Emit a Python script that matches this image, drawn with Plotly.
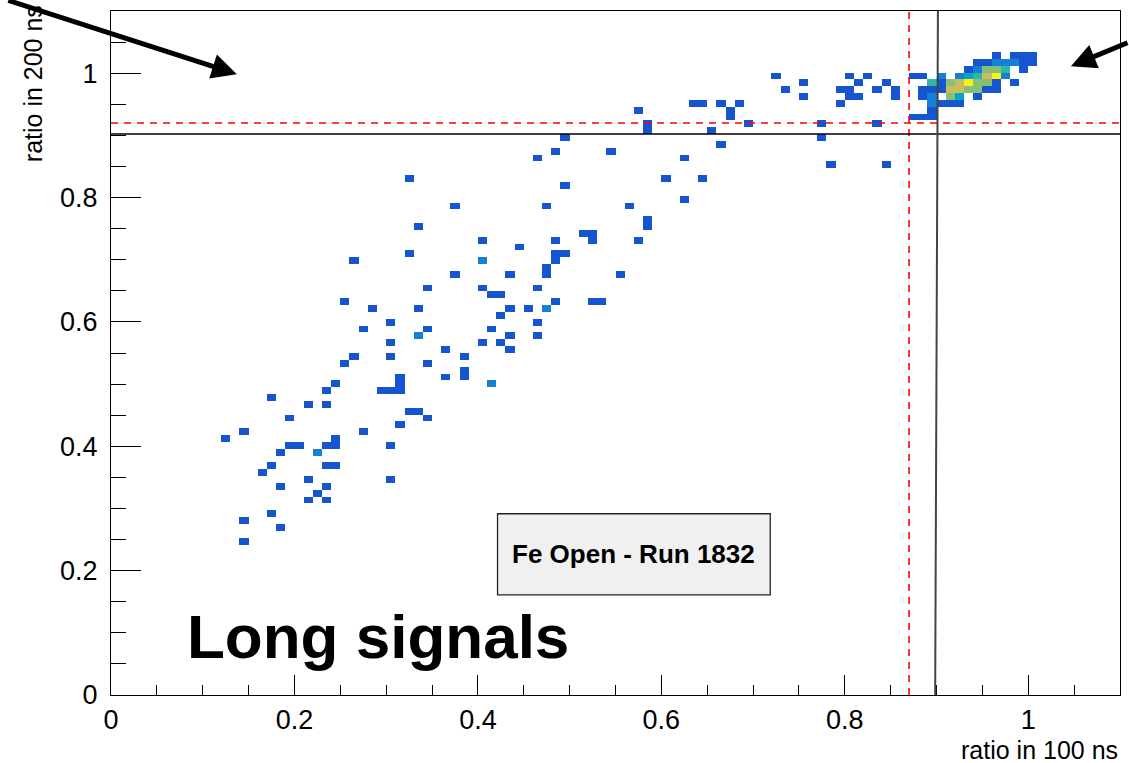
import plotly.graph_objects as go

# ---- data: 2D histogram bins (bin centres) ----
ratio_100ns = [
    0.145,
    0.185,
    0.145,
    0.175,
    0.215, 0.235,
    0.225,
    0.185, 0.235,
    0.215, 0.305,
    0.165,
    0.175, 0.235, 0.245,
    0.185, 0.225,
    0.195, 0.205, 0.235, 0.245, 0.305,
    0.125, 0.245,
    0.145, 0.275,
    0.315,
    0.195, 0.345,
    0.325, 0.335,
    0.215, 0.235,
    0.175,
    0.235, 0.295, 0.305, 0.315,
    0.245, 0.315, 0.415,
    0.315, 0.365, 0.385,
    0.385,
    0.255, 0.345,
    0.265, 0.305, 0.385,
    0.365, 0.435,
    0.305, 0.405, 0.425,
    0.335, 0.435, 0.465,
    0.275, 0.345, 0.415,
    0.305, 0.465,
    0.425,
    0.285, 0.335, 0.435, 0.455, 0.475,
    0.255, 0.485, 0.525, 0.535,
    0.415, 0.425,
    0.345, 0.405, 0.465,
    0.375, 0.435, 0.475, 0.555,
    0.475,
    0.265, 0.405, 0.485,
    0.325, 0.485, 0.495,
    0.445,
    0.405, 0.485, 0.525, 0.575,
    0.515, 0.525,
    0.335, 0.585,
    0.585,
    0.375, 0.475, 0.565,
    0.625,
    0.495,
    0.325, 0.605, 0.645,
    0.785, 0.845,
    0.465, 0.625,
    0.485, 0.545,
    0.665,
    0.495, 0.775,
    0.585, 0.655,
    0.585, 0.695, 0.775, 0.835,
    0.675, 0.875, 0.885, 0.895,
    0.575, 0.675, 0.895,
    0.635, 0.645, 0.665, 0.685, 0.795, 0.895, 0.905, 0.915, 0.925,
    0.755, 0.805, 0.815, 0.855, 0.885, 0.895, 0.915, 0.925, 0.945,
    0.735, 0.795, 0.805, 0.835, 0.855, 0.885, 0.895, 0.905, 0.915, 0.925, 0.935, 0.945, 0.955, 0.965,
    0.755, 0.815, 0.845, 0.895, 0.905, 0.915, 0.925, 0.935, 0.945, 0.955, 0.965, 0.985,
    0.725, 0.805, 0.825, 0.875, 0.885, 0.905, 0.925, 0.935, 0.945, 0.955, 0.965, 0.975,
    0.935, 0.945, 0.955, 0.965, 0.975, 0.995,
    0.945, 0.955, 0.965, 0.975, 0.985, 0.995, 1.005,
    0.965, 0.985, 0.995, 1.005,
]

ratio_200ns = [
    0.2475,
    0.2695,
    0.2805,
    0.2915,
    0.3135, 0.3135,
    0.3245,
    0.3355, 0.3355,
    0.3465, 0.3465,
    0.3575,
    0.3685, 0.3685, 0.3685,
    0.3905, 0.3905,
    0.4015, 0.4015, 0.4015, 0.4015, 0.4015,
    0.4125, 0.4125,
    0.4235, 0.4235,
    0.4345,
    0.4455, 0.4455,
    0.4565, 0.4565,
    0.4675, 0.4675,
    0.4785,
    0.4895, 0.4895, 0.4895, 0.4895,
    0.5005, 0.5005, 0.5005,
    0.5115, 0.5115, 0.5115,
    0.5225,
    0.5335, 0.5335,
    0.5445, 0.5445, 0.5445,
    0.5555, 0.5555,
    0.5665, 0.5665, 0.5665,
    0.5775, 0.5775, 0.5775,
    0.5885, 0.5885, 0.5885,
    0.5995, 0.5995,
    0.6105,
    0.6215, 0.6215, 0.6215, 0.6215, 0.6215,
    0.6325, 0.6325, 0.6325, 0.6325,
    0.6435, 0.6435,
    0.6545, 0.6545, 0.6545,
    0.6765, 0.6765, 0.6765, 0.6765,
    0.6875,
    0.6985, 0.6985, 0.6985,
    0.7095, 0.7095, 0.7095,
    0.7205,
    0.7315, 0.7315, 0.7315, 0.7315,
    0.7425, 0.7425,
    0.7535, 0.7535,
    0.7645,
    0.7865, 0.7865, 0.7865,
    0.7975,
    0.8195,
    0.8305, 0.8305, 0.8305,
    0.8525, 0.8525,
    0.8635, 0.8635,
    0.8745, 0.8745,
    0.8855,
    0.8965, 0.8965,
    0.9075, 0.9075,
    0.9185, 0.9185, 0.9185, 0.9185,
    0.9295, 0.9295, 0.9295, 0.9295,
    0.9405, 0.9405, 0.9405,
    0.9515, 0.9515, 0.9515, 0.9515, 0.9515, 0.9515, 0.9515, 0.9515, 0.9515,
    0.9625, 0.9625, 0.9625, 0.9625, 0.9625, 0.9625, 0.9625, 0.9625, 0.9625,
    0.9735, 0.9735, 0.9735, 0.9735, 0.9735, 0.9735, 0.9735, 0.9735, 0.9735, 0.9735, 0.9735, 0.9735, 0.9735, 0.9735,
    0.9845, 0.9845, 0.9845, 0.9845, 0.9845, 0.9845, 0.9845, 0.9845, 0.9845, 0.9845, 0.9845, 0.9845,
    0.9955, 0.9955, 0.9955, 0.9955, 0.9955, 0.9955, 0.9955, 0.9955, 0.9955, 0.9955, 0.9955, 0.9955,
    1.0065, 1.0065, 1.0065, 1.0065, 1.0065, 1.0065,
    1.0175, 1.0175, 1.0175, 1.0175, 1.0175, 1.0175, 1.0175,
    1.0285, 1.0285, 1.0285, 1.0285,
]

entries = [
    1,
    1,
    1,
    1,
    1, 1,
    1,
    1, 1,
    1, 1,
    1,
    1, 1, 1,
    1, 2,
    1, 1, 1, 1, 1,
    1, 1,
    1, 1,
    1,
    1, 1,
    1, 1,
    1, 1,
    1,
    1, 1, 1, 1,
    1, 1, 2,
    1, 1, 1,
    1,
    1, 1,
    1, 1, 1,
    1, 1,
    1, 1, 1,
    2, 1, 1,
    1, 1, 1,
    1, 1,
    1,
    1, 1, 1, 1, 2,
    1, 1, 1, 1,
    1, 1,
    1, 1, 1,
    1, 1, 1, 1,
    1,
    1, 2, 1,
    1, 1, 1,
    1,
    1, 1, 1, 1,
    1, 1,
    1, 1,
    1,
    1, 1, 1,
    1,
    1,
    1, 1, 1,
    1, 1,
    1, 1,
    1, 1,
    1,
    1, 1,
    1, 1,
    1, 1, 1, 1,
    1, 1, 1, 1,
    1, 1, 1,
    1, 1, 1, 1, 1, 2, 1, 1, 1,
    1, 1, 1, 1, 1, 2, 5, 3, 1,
    1, 1, 1, 1, 1, 1, 1, 1, 6, 6, 5, 5, 1, 1,
    1, 1, 1, 4, 1, 5, 6, 8, 5, 5, 1, 1,
    1, 1, 1, 1, 1, 2, 2, 3, 4, 6, 8, 2,
    1, 2, 5, 5, 4, 1,
    1, 1, 2, 2, 2, 1, 1,
    1, 1, 1, 1,
]

# ROOT kBird palette
bird = [
    "rgb(21,86,208)", "rgb(20,129,214)", "rgb(6,164,202)", "rgb(46,183,164)",
    "rgb(135,191,119)", "rgb(200,190,95)", "rgb(240,205,60)", "rgb(249,240,20)",
]
colorscale = [[0.0, "rgba(255,255,255,0)"], [0.1, "rgba(255,255,255,0)"]]
for k, c in enumerate(bird):
    colorscale.append([(k + 1) / 8.0, c])

FONT = "Liberation Sans, Arial, Helvetica, sans-serif"

fig = go.Figure()
fig.add_trace(go.Histogram2d(
    x=ratio_100ns, y=ratio_200ns, z=entries, histfunc="sum",
    xbins=dict(start=0, end=1.1, size=0.01),
    ybins=dict(start=0, end=1.1, size=0.011),
    autobinx=False, autobiny=False,
    colorscale=colorscale, zmin=0, zmax=8, showscale=False,
    hoverinfo="skip",
))

axis_common = dict(
    range=[0, 1.1], showgrid=False, zeroline=False, showline=True,
    linecolor="black", linewidth=1.3, mirror=True,
    ticks="inside", tickcolor="black", tickwidth=1.2,
    tick0=0, dtick=0.2,
)

fig.update_layout(
    width=1129, height=763,
    margin=dict(l=111, r=9, t=11, b=68),
    paper_bgcolor="white", plot_bgcolor="white",
    xaxis=dict(**axis_common, ticklen=20, ticklabelstandoff=0,
               tickfont=dict(family=FONT, size=27, color="black"),
               minor=dict(ticks="inside", ticklen=10, dtick=0.05, tickcolor="black", tickwidth=1.2, showgrid=False)),
    yaxis=dict(**axis_common, ticklen=30, ticklabelstandoff=7,
               tickfont=dict(family=FONT, size=27, color="black"),
               minor=dict(ticks="inside", ticklen=15, dtick=0.05, tickcolor="black", tickwidth=1.2, showgrid=False)),
    showlegend=False,
)

# cut lines
fig.add_shape(type="line", xref="x", yref="y", x0=0.87, x1=0.87, y0=0, y1=1.1,
              line=dict(color="red", width=1.6, dash="7px,6px"))
fig.add_shape(type="line", xref="x", yref="y", x0=0, x1=1.1, y0=0.92, y1=0.92,
              line=dict(color="red", width=1.6, dash="7px,6px"))
fig.add_shape(type="line", xref="x", yref="y", x0=0, x1=1.1, y0=0.902, y1=0.902,
              line=dict(color="black", width=1.5))
fig.add_shape(type="line", xref="x", yref="y", x0=0.9015, x1=0.8985, y0=1.1, y1=0,
              line=dict(color="#444444", width=2))

# label box
fig.add_shape(type="rect", xref="x", yref="y", x0=0.4214, x1=0.7187, y0=0.161, y1=0.2915,
              fillcolor="#f0f0f0", line=dict(color="#222222", width=1.3))
fig.add_annotation(xref="x", yref="y", x=0.570, y=0.2262, text="<b>Fe Open - Run 1832</b>",
                   showarrow=False, font=dict(family=FONT, size=26, color="black"))

fig.add_annotation(xref="x", yref="y", x=0.0806, y=0.0935, xanchor="left", yanchor="middle",
                   text="<b>Long signals</b>", showarrow=False,
                   font=dict(family=FONT, size=62, color="black"))

# axis titles
fig.add_annotation(xref="paper", yref="paper", x=1.0, y=-0.081, xanchor="right", yanchor="middle",
                   text="ratio in 100 ns", showarrow=False,
                   font=dict(family=FONT, size=25, color="black"))
fig.add_annotation(xref="paper", yref="paper", x=-0.0773, y=0.893, xanchor="center", yanchor="middle",
                   text="ratio in 200 ns", textangle=-90, showarrow=False,
                   font=dict(family=FONT, size=25, color="black"))

# arrows
fig.add_annotation(xref="x", yref="y", x=0.1372, y=0.9984, text="", showarrow=True,
                   arrowhead=2, arrowsize=1, arrowwidth=5, arrowcolor="black",
                   ax=-230, ay=-92)
fig.add_annotation(xref="x", yref="y", x=1.0465, y=1.0113, text="", showarrow=True,
                   arrowhead=2, arrowsize=1, arrowwidth=5, arrowcolor="black",
                   ax=68, ay=-24)

fig.write_html("out.html")
